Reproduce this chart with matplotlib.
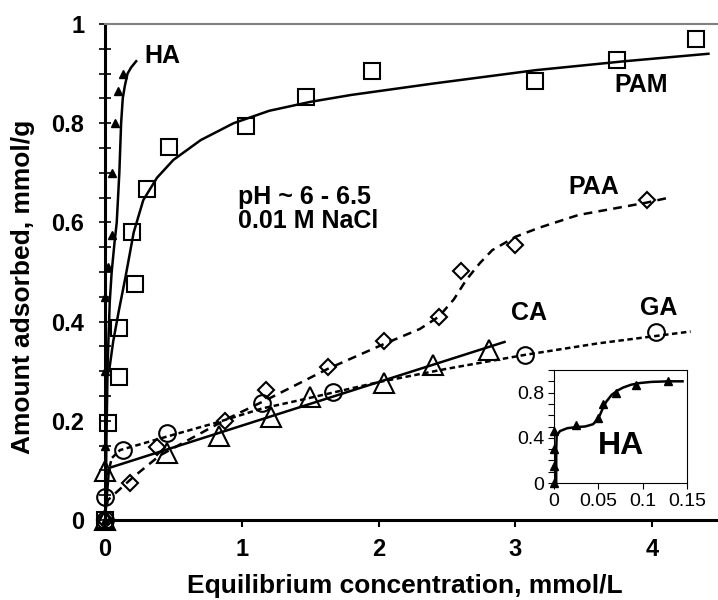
import matplotlib
matplotlib.use('Agg')
import matplotlib.pyplot as plt
from matplotlib.ticker import MultipleLocator

plt.rcParams['font.family'] = ['Liberation Sans', 'DejaVu Sans']

# measured points
ha_x = [0, 0, 0, 0, 0.025, 0.05, 0.055, 0.07, 0.093, 0.13]
ha_y = [0.0, 0.15, 0.30, 0.45, 0.51, 0.575, 0.70, 0.80, 0.865, 0.90]

pam_x = [0, 0.02, 0.1, 0.1, 0.22, 0.2, 0.31, 0.47, 1.03, 1.47, 1.95, 3.14, 3.74, 4.32]
pam_y = [0.0, 0.196, 0.288, 0.387, 0.476, 0.58, 0.667, 0.752, 0.794, 0.853, 0.905, 0.885, 0.927, 0.97]

paa_x = [0, 0.18, 0.38, 0.88, 1.18, 1.63, 2.04, 2.44, 2.6, 3.0, 3.96]
paa_y = [0.0, 0.074, 0.147, 0.20, 0.262, 0.309, 0.361, 0.41, 0.502, 0.554, 0.645]

ca_x = [0, 0.0, 0.45, 0.83, 1.21, 1.5, 2.04, 2.4, 2.81]
ca_y = [0.0, 0.098, 0.136, 0.17, 0.208, 0.248, 0.276, 0.312, 0.343]

ga_x = [0, 0, 0.13, 0.45, 1.15, 1.67, 3.07, 4.03]
ga_y = [0.0, 0.047, 0.141, 0.175, 0.235, 0.258, 0.333, 0.38]

# fitted curves
ha_fit_x = [0.005, 0.01, 0.02, 0.035, 0.049, 0.07, 0.086, 0.105, 0.118, 0.13, 0.145, 0.165, 0.19, 0.228]
ha_fit_y = [0.0, 0.15, 0.32, 0.44, 0.5, 0.56, 0.6, 0.7, 0.8, 0.85, 0.875, 0.9, 0.912, 0.925]

pam_fit_x = [0.03, 0.06, 0.1, 0.15, 0.21, 0.28, 0.38, 0.5, 0.7, 0.94, 1.2, 1.5, 1.8, 2.4, 3.15, 3.8, 4.41]
pam_fit_y = [0.3, 0.36, 0.42, 0.49, 0.58, 0.645, 0.69, 0.726, 0.766, 0.80, 0.825, 0.843, 0.857, 0.88, 0.907, 0.925, 0.94]

paa_fit_x = [0, 0.02, 0.1, 0.2, 0.4, 0.9, 1.2, 1.63, 2.04, 2.3, 2.44, 2.55, 2.64, 2.74, 2.83, 3.0, 3.17, 3.46, 3.96, 4.14]
paa_fit_y = [0, 0.04, 0.06, 0.085, 0.13, 0.205, 0.245, 0.305, 0.355, 0.385, 0.41, 0.445, 0.484, 0.518, 0.544, 0.571, 0.589, 0.615, 0.64, 0.651]

ca_fit_x = [0.0, 0.03, 2.92]
ca_fit_y = [0.0, 0.105, 0.359]

ga_fit_x = [0, 0.01, 0.05, 0.11, 0.45, 0.81, 1.15, 1.43, 2.0, 2.5, 3.07, 3.6, 4.28]
ga_fit_y = [0.0, 0.08, 0.125, 0.141, 0.168, 0.196, 0.225, 0.242, 0.278, 0.305, 0.333, 0.356, 0.38]

# inset HA
ins_x = [0, 0, 0, 0, 0.025, 0.05, 0.055, 0.07, 0.093, 0.129]
ins_y = [0.0, 0.15, 0.30, 0.456, 0.51, 0.575, 0.70, 0.797, 0.87, 0.9]
ins_fit_x = [0.0025, 0.0025, 0.003, 0.0068, 0.015, 0.025, 0.035, 0.044, 0.05, 0.055, 0.059, 0.065, 0.072, 0.078, 0.087, 0.097, 0.11, 0.13, 0.145]
ins_fit_y = [0, 0.3, 0.42, 0.46, 0.485, 0.495, 0.5, 0.52, 0.57, 0.66, 0.72, 0.78, 0.82, 0.845, 0.87, 0.885, 0.895, 0.9, 0.9]

fig = plt.figure(figsize=(7.18, 6.0), dpi=100)
ax = fig.add_axes([0.1462, 0.1333, 0.8538, 0.8267])

lw = 1.8
ax.plot(ha_fit_x, ha_fit_y, color='black', lw=lw)
ax.plot(pam_fit_x, pam_fit_y, color='black', lw=lw)
ax.plot(paa_fit_x, paa_fit_y, color='black', lw=lw, dashes=(3.5, 2.5))
ax.plot(ca_fit_x, ca_fit_y, color='black', lw=lw)
ax.plot(ga_fit_x, ga_fit_y, color='black', lw=lw, dashes=(2.2, 1.4))

mk = dict(linestyle='none', markeredgecolor='black', markeredgewidth=1.5, markerfacecolor='none', clip_on=False)
ax.plot(pam_x, pam_y, marker='s', markersize=11, **mk)
ax.plot(paa_x, paa_y, marker='D', markersize=8, **mk)
ax.plot(ca_x, ca_y, marker='^', markersize=15, **mk)
ax.plot(ga_x, ga_y, marker='o', markersize=12, **mk)
ax.plot(ha_x, ha_y, marker='^', markersize=6, linestyle='none', color='black', clip_on=False)

ax.set_xlim(0, 4.48)
ax.set_ylim(0, 1)
ax.xaxis.set_major_locator(MultipleLocator(1))
ax.yaxis.set_minor_locator(MultipleLocator(0.05))
ax.set_yticks([0, 0.2, 0.4, 0.6, 0.8, 1.0])
ax.set_yticklabels(['0', '0.2', '0.4', '0.6', '0.8', '1'])
ax.tick_params(axis='y', which='both', direction='inout', length=8, width=1.2)
ax.tick_params(axis='y', which='major', pad=11)
ax.tick_params(axis='x', which='major', direction='out', length=5, width=1.5, pad=8)
ax.tick_params(axis='both', labelsize=17)
for lab in ax.get_xticklabels() + ax.get_yticklabels():
    lab.set_fontweight('bold')

ax.spines['left'].set_linewidth(2.2)
ax.spines['bottom'].set_linewidth(2.2)
ax.spines['top'].set_color('#808080')
ax.spines['top'].set_linewidth(1.5)
ax.spines['right'].set_visible(False)

ax.set_xlabel('Equilibrium concentration, mmol/L', fontsize=19, fontweight='bold')
ax.set_ylabel('Amount adsorbed, mmol/g', fontsize=19, fontweight='bold')
ax.xaxis.set_label_coords(0.489, -0.108)
ax.yaxis.set_label_coords(-0.114, 0.47)

tk = dict(fontsize=18, fontweight='bold', ha='center', va='center')
ax.text(0.42, 0.935, 'HA', **tk)
ax.text(3.92, 0.877, 'PAM', **tk)
ax.text(3.57, 0.671, 'PAA', **tk)
ax.text(3.1, 0.417, 'CA', **tk)
ax.text(4.05, 0.427, 'GA', **tk)
ax.text(0.97, 0.627, 'pH ~ 6 - 6.5\n0.01 M NaCl', fontsize=18, fontweight='bold',
        ha='left', va='center', linespacing=1.0)

# inset
ins = fig.add_axes([0.7716, 0.195, 0.1852, 0.1883])
ins.plot(ins_fit_x, ins_fit_y, color='black', lw=1.8)
ins.plot(ins_x, ins_y, marker='^', markersize=6, linestyle='none', color='black', clip_on=False)
ins.set_xlim(0, 0.15)
ins.set_ylim(0, 1)
ins.set_xticks([0, 0.05, 0.1, 0.15])
ins.set_xticklabels(['0', '0.05', '0.1', '0.15'])
ins.set_yticks([0, 0.4, 0.8])
ins.set_yticklabels(['0', '0.4', '0.8'])
ins.yaxis.set_minor_locator(MultipleLocator(0.1))
ins.tick_params(axis='both', which='both', direction='out', labelsize=14, length=4, width=0.8, pad=3)
for s in ins.spines.values():
    s.set_linewidth(0.8)
ins.text(0.0756, 0.33, 'HA', fontsize=23, fontweight='bold', ha='center', va='center')

fig.savefig('out.png', dpi=100)
